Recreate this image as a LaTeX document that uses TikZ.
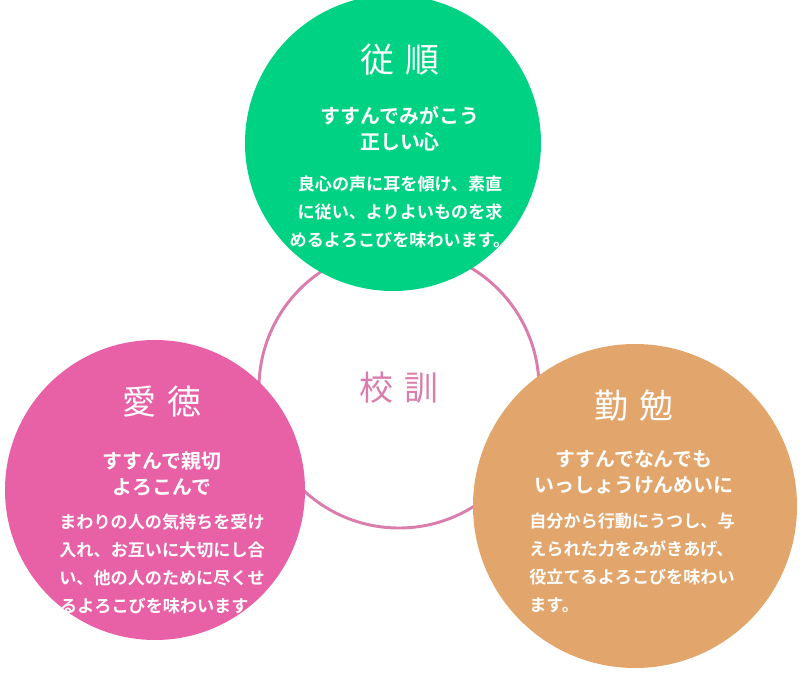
\documentclass[tikz,border=0pt]{standalone}
\usepackage{fontspec}
\newfontfamily\cjk{Noto Sans CJK JP}
\newfontfamily\cjkb{Noto Sans CJK JP Bold}
\definecolor{kgreen}{RGB}{0,210,132}
\definecolor{kpink}{RGB}{232,96,166}
\definecolor{korange}{RGB}{226,166,108}
\definecolor{kring}{RGB}{218,124,172}
\begin{document}
\begin{tikzpicture}[x=0.03cm,y=-0.03cm,
  every node/.style={text=white,align=center},
  ttl/.style={font=\cjk\fontsize{29}{32}\selectfont},
  sub/.style={font=\cjkb\fontsize{17}{22}\selectfont},
  body/.style={font=\cjkb\fontsize{14.6}{23.8}\selectfont}]
  \useasboundingbox (0,0) rectangle (800,673);

  \draw[kring,line width=2.5pt] (399,388) circle (140);
  \fill[kgreen] (393,143) circle (148);
  \fill[kpink] (155,490) circle (150);
  \fill[korange] (635,506) circle (162);

  \node[ttl,text=kring] (kokun) at (399,388) {校\,\,訓};

  % top
  \node[ttl] (t1) at (400,60) {従\,\,順};
  \node[sub] (s1) at (400,129) {すすんでみがこう\\正しい心};
  \node[body] (b1) at (400,212) {良心の声に耳を傾け、素直\\に従い、よりよいものを求\\めるよろこびを味わいます。};

  % left
  \node[ttl] (t2) at (162,402) {愛\,\,徳};
  \node[sub] (s2) at (162,474) {すすんで親切\\よろこんで};
  \node[body] (b2) at (162,564) {まわりの人の気持ちを受け\\入れ、お互いに大切にし合\\い、他の人のために尽くせ\\るよろこびを味わいます。};

  % right
  \node[ttl] (t3) at (634,406) {勤\,\,勉};
  \node[sub] (s3) at (634,472) {すすんでなんでも\\いっしょうけんめいに};
  \node[body,align=left] (b3) at (632,563) {自分から行動にうつし、与\\えられた力をみがきあげ、\\役立てるよろこびを味わい\\ます。};
\end{tikzpicture}
\end{document}
